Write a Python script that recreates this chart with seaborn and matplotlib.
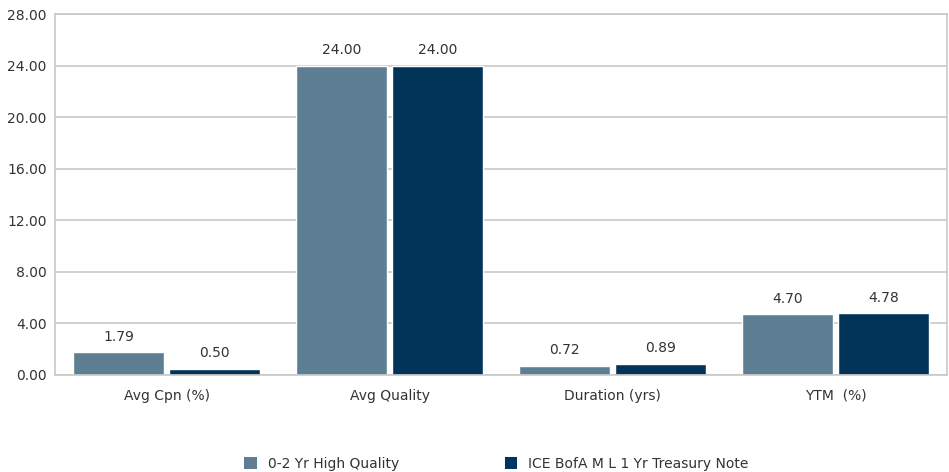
import matplotlib
matplotlib.use("Agg")

import pandas as pd
import seaborn as sns
from matplotlib import pyplot as plt
from matplotlib.patches import Patch

categories = ["Avg Cpn (%)", "Avg Quality", "Duration (yrs)", "YTM  (%)"]
series_names = ["0-2 Yr High Quality", "ICE BofA M L 1 Yr Treasury Note"]
fund_values = [1.79, 24.00, 0.72, 4.70]
index_values = [0.50, 24.00, 0.89, 4.78]
y_ticks = [0, 4, 8, 12, 16, 20, 24, 28]

COLORS = ["#5e7f93", "#02345a"]
GRID = "#c8c8c8"
TEXT = "#333333"

frame = pd.DataFrame(
    {
        "category": categories * 2,
        "series": [series_names[0]] * 4 + [series_names[1]] * 4,
        "value": fund_values + index_values,
    }
)

sns.set_style("white")
plt.rcParams["font.family"] = ["DejaVu Sans"]

fig = plt.figure(figsize=(9.49, 4.72), dpi=100)
ax = fig.add_axes([55 / 949, 1 - 375 / 472, (947 - 55) / 949, (375 - 14) / 472])

sns.barplot(
    data=frame,
    x="category",
    y="value",
    hue="series",
    order=categories,
    hue_order=series_names,
    palette=COLORS,
    width=0.86,
    gap=0.05,
    saturation=1,
    legend=False,
    ax=ax,
)

for container in ax.containers:
    ax.bar_label(container, fmt="%.2f", padding=6, fontsize=10, color=TEXT)

ax.set_ylim(0, 28)
ax.set_yticks(y_ticks, labels=[f"{t:.2f}" for t in y_ticks])
ax.yaxis.grid(True, color=GRID, linewidth=1.2)
ax.set_axisbelow(True)
for spine in ax.spines.values():
    spine.set_color(GRID)
    spine.set_linewidth(1.2)
ax.tick_params(axis="both", length=0, labelsize=10, colors=TEXT)
ax.tick_params(axis="x", pad=10)
ax.tick_params(axis="y", pad=6)
ax.set_xlabel("")
ax.set_ylabel("")

handles = [Patch(facecolor=c, edgecolor="none") for c in COLORS]
fig.legend(
    handles,
    series_names,
    loc="center",
    bbox_to_anchor=(0.523, 1 - 464 / 472),
    ncol=2,
    frameon=False,
    fontsize=10,
    handlelength=0.9,
    handleheight=0.9,
    columnspacing=7.6,
    handletextpad=0.8,
    labelcolor=TEXT,
)

fig.savefig("out.png", dpi=100)
plt.close(fig)
